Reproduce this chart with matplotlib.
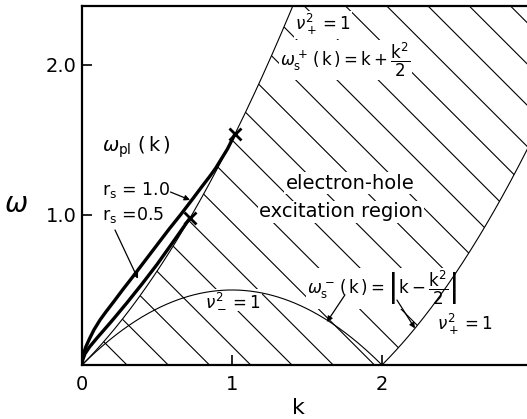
"""Electron-hole excitation region with plasmon dispersion curves."""

import matplotlib
import matplotlib.pyplot as plt
import matplotlib.patches as mpatches
import numpy as np

matplotlib.use("Agg")

plt.rcParams["font.family"] = ["DejaVu Sans"]
plt.rcParams["mathtext.fontset"] = "dejavusans"

# wave-vector grid for the particle-hole boundaries
k_grid = np.linspace(0.0, 2.97, 400)

# plasmon dispersion, ending where it meets the continuum
k_rs10 = [0.0, 0.003, 0.01, 0.025, 0.05, 0.08, 0.12, 0.16, 0.21, 0.27, 0.34,
          0.42, 0.50, 0.58, 0.66, 0.74, 0.80, 0.85, 0.89, 0.93, 0.97, 1.02]
w_rs10 = [0.0, 0.04, 0.075, 0.12, 0.175, 0.235, 0.30, 0.355, 0.42, 0.50, 0.59,
          0.695, 0.80, 0.905, 1.005, 1.11, 1.19, 1.255, 1.31, 1.375, 1.44, 1.54]
k_rs05 = [0.0, 0.005, 0.02, 0.05, 0.1, 0.2, 0.3, 0.4, 0.5, 0.6, 0.66, 0.72]
w_rs05 = [0.0, 0.035, 0.075, 0.12, 0.18, 0.295, 0.415, 0.54, 0.67, 0.81, 0.895, 0.98]

x_ticks = [0, 1, 2]
x_tick_labels = ["0", "1", "2"]
y_ticks = [1.0, 2.0]
y_tick_labels = ["1.0", "2.0"]

K_MAX = 2.967
W_MAX = 2.393


def omega_plus(k):
    return k + k**2 / 2


def omega_minus(k):
    return np.abs(k - k**2 / 2)


fig = plt.figure(figsize=(5.27, 4.19), dpi=100)
ax = fig.add_axes([82 / 527, 54 / 419, 445 / 527, 359 / 419])
ax.set_xlim(0, K_MAX)
ax.set_ylim(0, W_MAX)

# hatched continuum: 0 (or k^2/2 - k beyond k=2) up to k + k^2/2
upper = omega_plus(k_grid)
lower = np.where(k_grid < 2, 0.0, k_grid**2 / 2 - k_grid)
poly_x = np.concatenate([k_grid, k_grid[::-1]])
poly_y = np.concatenate([lower, upper[::-1]])
region = mpatches.Polygon(np.column_stack([poly_x, poly_y]), closed=True,
                          fill=False, edgecolor="none")
ax.add_patch(region)
for c in np.arange(0.30, 6.0, 0.275):
    kk = np.array([c - 4.0, c])
    line, = ax.plot(kk, c - kk, color="black", lw=0.8, zorder=1)
    line.set_clip_path(region)

# continuum boundaries
ax.plot(k_grid, omega_plus(k_grid), color="black", lw=0.8, zorder=3)
ax.plot(k_grid, omega_minus(k_grid), color="black", lw=0.8, zorder=3)

# plasmon branches
ax.plot(k_rs10, w_rs10, color="black", lw=2.4, zorder=4,
        solid_capstyle="round", solid_joinstyle="round")
ax.plot(k_rs05, w_rs05, color="black", lw=2.4, zorder=4,
        solid_capstyle="round", solid_joinstyle="round")
ax.plot([k_rs10[-1], k_rs05[-1]], [w_rs10[-1], w_rs05[-1]], "x", color="black",
        ms=8, mew=2, zorder=5)

box = dict(facecolor="white", edgecolor="none", pad=1.0)
txt = dict(fontsize=14, zorder=2, bbox=box)
small = dict(txt, fontsize=12.5)
formula = dict(txt, fontsize=12)

ax.text(0.133, 1.453, r"$\omega_{\rm pl}\ (\,\rm k\,)$", ha="left", va="center", **txt)
ax.text(0.133, 1.167, r"$\rm r_s$ = 1.0", ha="left", va="center", **small)
ax.text(0.133, 1.0, r"$\rm r_s$ =0.5", ha="left", va="center", **small)
ax.text(1.42, 2.267, r"$\nu_+^2 = 1$", ha="left", va="center", **formula)
ax.text(1.32, 2.033, r"$\omega_{\rm s}^+\,(\,\rm k\,) = \rm k+\dfrac{k^2}{2}$",
        ha="left", va="center", **formula)
ax.text(1.787, 1.213, "electron-hole", ha="center", va="center", **txt)
ax.text(1.727, 1.02, "excitation region", ha="center", va="center", **txt)
ax.text(0.82, 0.433, r"$\nu_-^2 = 1$", ha="left", va="center", **formula)
ax.text(1.5, 0.513,
        r"$\omega_{\rm s}^-\,(\,\rm k\,) = \left|\rm k - \dfrac{k^2}{2}\right|$",
        ha="left", va="center", **formula)
ax.text(2.367, 0.267, r"$\nu_+^2 = 1$", ha="left", va="center", **formula)

arrow = dict(arrowstyle="-|>", color="black", lw=0.9, mutation_scale=8,
             shrinkA=0, shrinkB=0)
ax.annotate("", xy=(0.72, 1.10), xytext=(0.59, 1.153), arrowprops=arrow, zorder=6)
ax.annotate("", xy=(0.373, 0.575), xytext=(0.22, 0.90), arrowprops=arrow, zorder=6)
ax.annotate("", xy=(1.633, 0.287), xytext=(1.753, 0.467), arrowprops=arrow, zorder=6)
ax.annotate("", xy=(2.22, 0.244), xytext=(2.10, 0.433), arrowprops=arrow, zorder=6)

ax.set_xticks(x_ticks)
ax.set_xticklabels(x_tick_labels)
ax.set_yticks(y_ticks)
ax.set_yticklabels(y_tick_labels)
ax.tick_params(direction="in", length=7, width=1.2, labelsize=14)
ax.tick_params(axis="x", pad=7)
ax.tick_params(axis="y", pad=4)

ax.spines["right"].set_visible(False)
for side in ("left", "bottom", "top"):
    ax.spines[side].set_linewidth(1.6)

fig.text(16 / 527, 1 - 204 / 419, r"$\omega$", fontsize=20, ha="center", va="center")
fig.text(298 / 527, 1 - 408 / 419, "k", fontsize=16, ha="center", va="center")

fig.savefig("out.png", dpi=100)
plt.close(fig)
